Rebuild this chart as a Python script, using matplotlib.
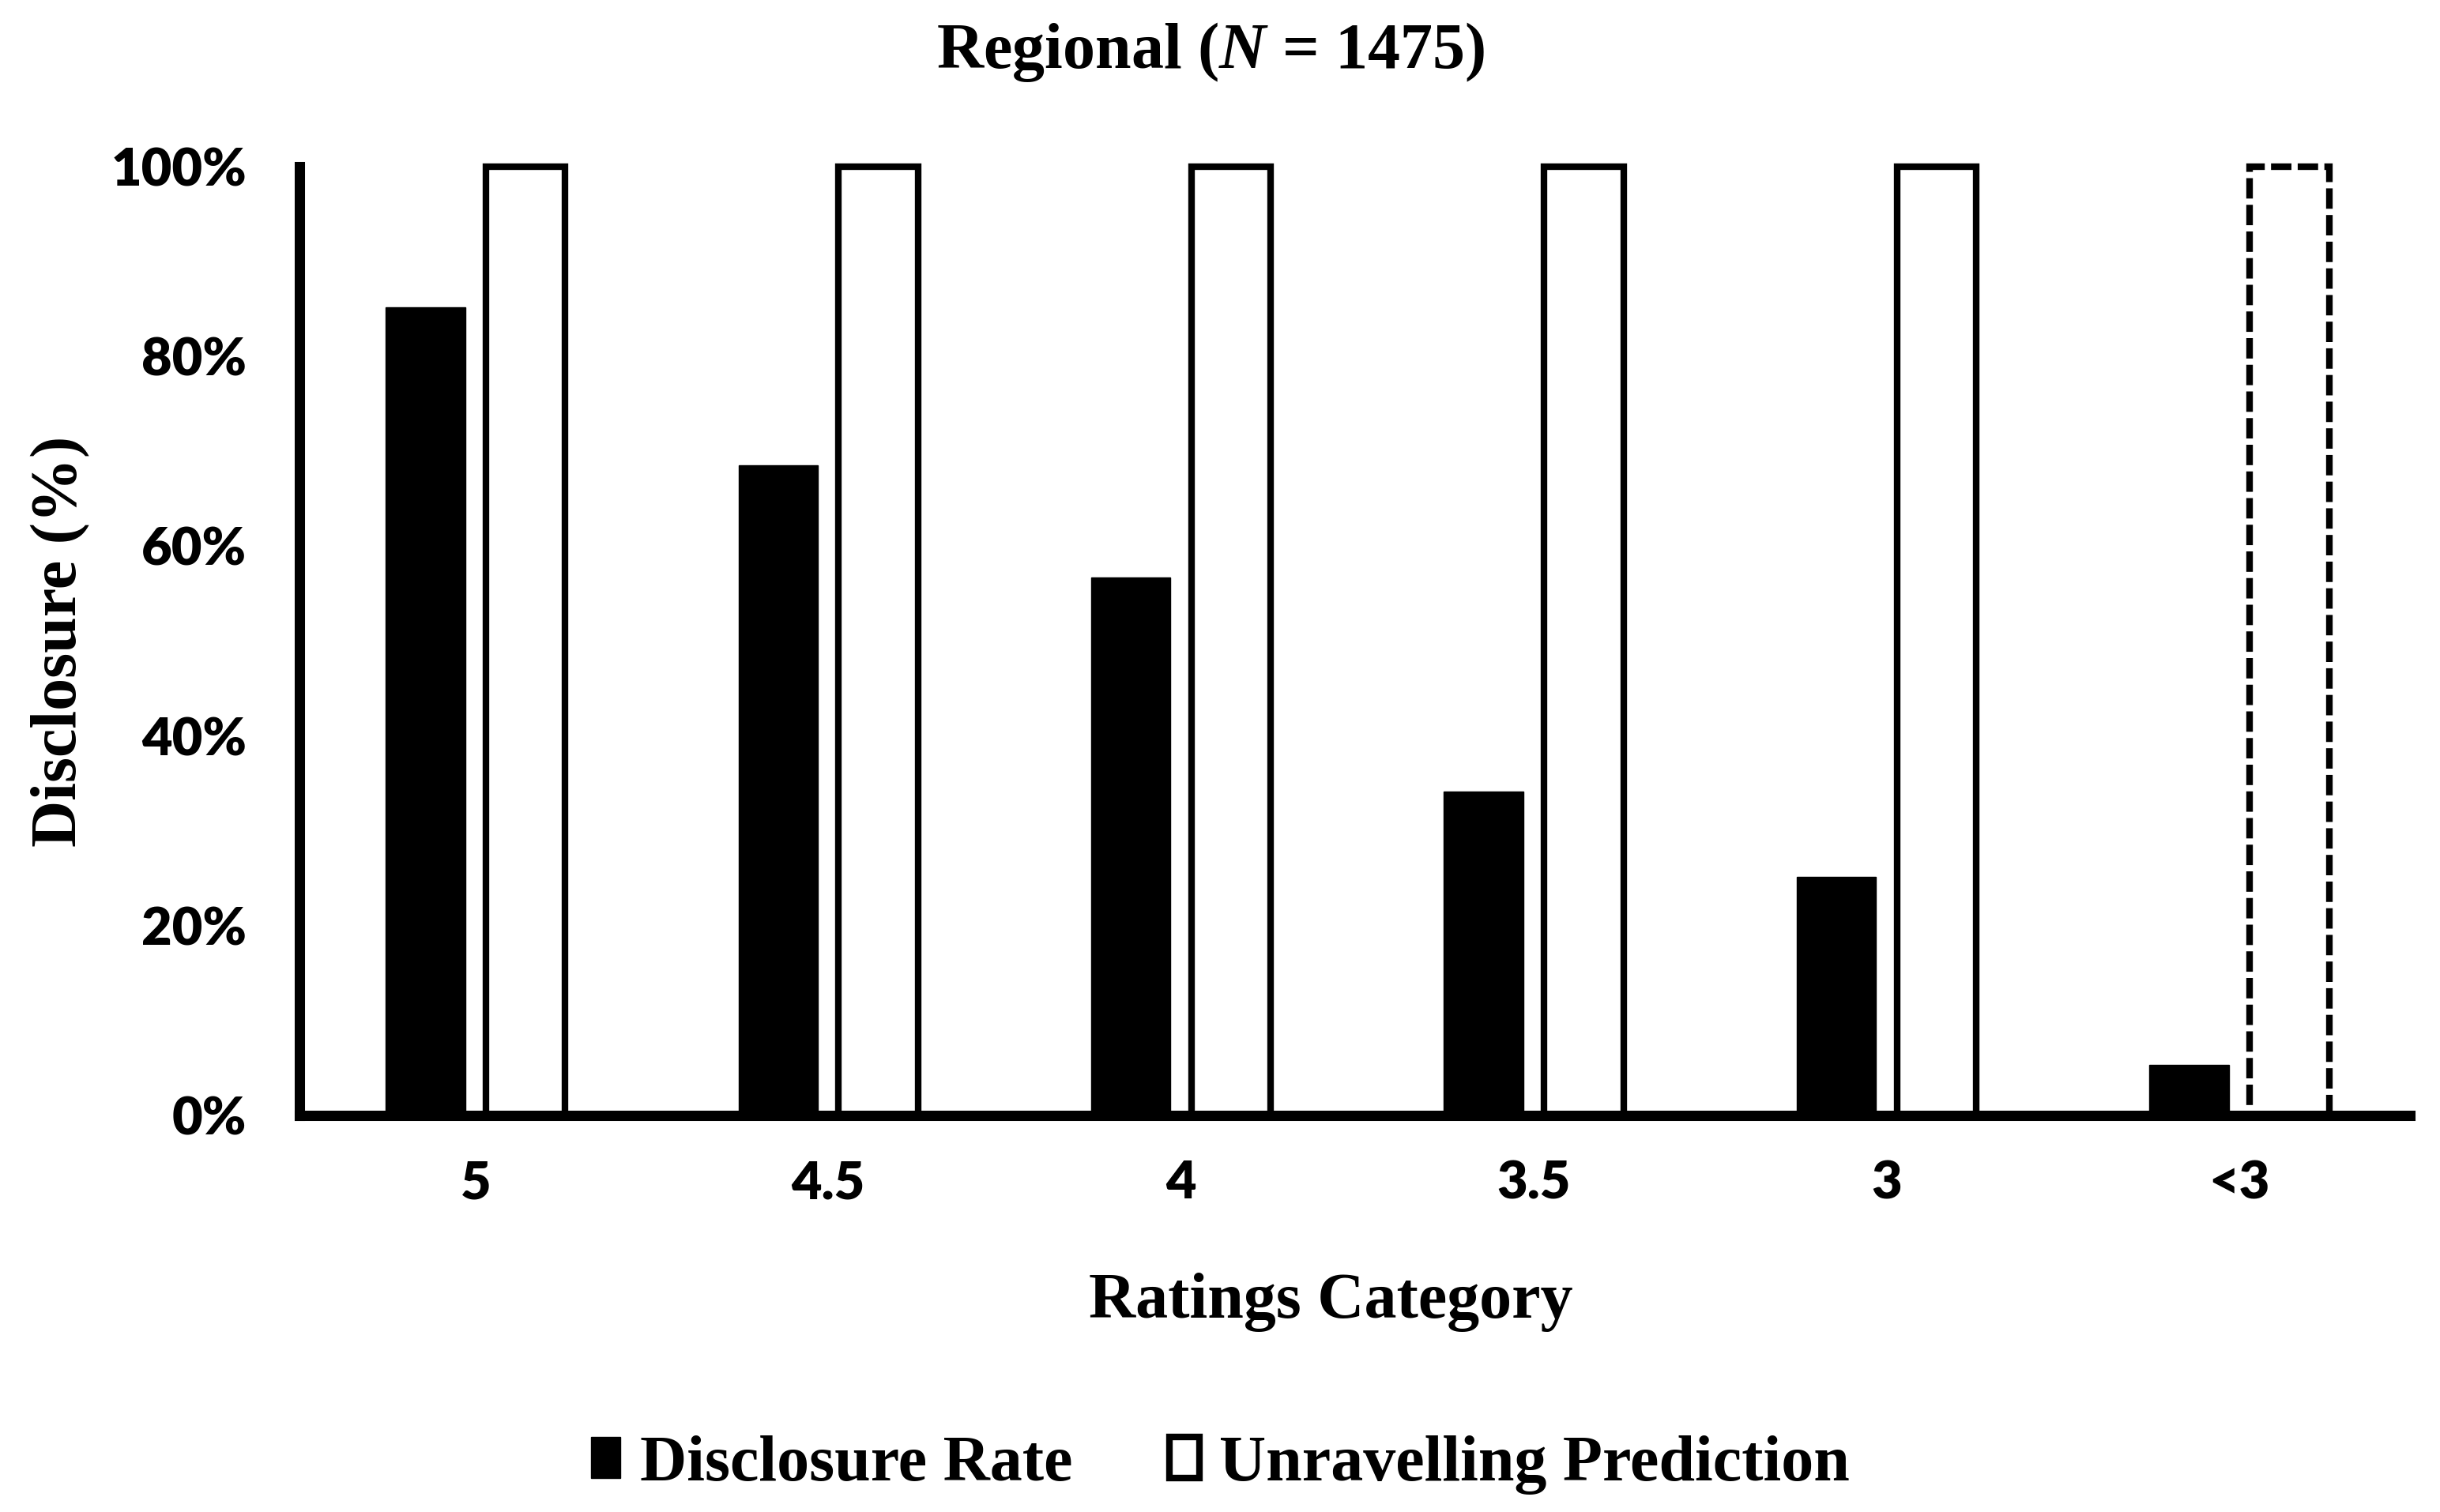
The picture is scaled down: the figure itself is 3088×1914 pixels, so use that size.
import matplotlib
matplotlib.use("Agg")
import matplotlib.pyplot as plt
import numpy as np

categories = ["5", "4.5", "4", "3.5", "3", "<3"]
disclosure_rate = [0.851, 0.685, 0.567, 0.341, 0.251, 0.053]
unravelling_prediction = [1.0, 1.0, 1.0, 1.0, 1.0, 1.0]
y_ticks = [0, 0.2, 0.4, 0.6, 0.8, 1.0]
y_tick_labels = ["0%", "20%", "40%", "60%", "80%", "100%"]

plt.rcParams["mathtext.fontset"] = "custom"
plt.rcParams["mathtext.it"] = "Liberation Serif:italic:bold"
plt.rcParams["mathtext.rm"] = "Liberation Serif:bold"

serif = dict(family="Liberation Serif", weight="bold", size=29.5)

fig = plt.figure(figsize=(15.44, 9.57), dpi=200)
ax = fig.add_axes([0.1226, 0.2625, 0.99 - 0.1226, 0.89 - 0.2625])

x = np.arange(len(categories))
w = 0.225
off = 0.142

ax.bar(x - off, disclosure_rate, w, color="black", edgecolor="black",
       linewidth=0.5, label="Disclosure Rate", zorder=2)
white = ax.bar(x + off, unravelling_prediction, w, color="white",
               edgecolor="black", linewidth=3, label="Unravelling Prediction",
               zorder=2, clip_on=False)
# last category prediction drawn dashed
white[-1].set_linestyle((0, (3.1, 0.95)))

ax.set_xlim(-0.5, len(categories) - 0.5)
ax.set_ylim(0, 1.0)

ax.set_xticks(x)
ax.set_xticklabels(categories)
ax.set_yticks(y_ticks)
ax.set_yticklabels(y_tick_labels)
ax.tick_params(axis="both", length=0, labelsize=24)
ax.tick_params(axis="x", pad=20)
ax.tick_params(axis="y", pad=24)
for lab in ax.get_xticklabels() + ax.get_yticklabels():
    lab.set_fontfamily("Lato")
    lab.set_fontweight("heavy")

for s in ["top", "right"]:
    ax.spines[s].set_visible(False)
ax.spines["left"].set_linewidth(4.7)
ax.spines["bottom"].set_linewidth(4.7)
ax.spines["bottom"].set_bounds(-0.5, len(categories) - 0.515)
ax.spines["left"].set_zorder(3)
ax.spines["bottom"].set_zorder(3)

fig.text(0.496, 0.9655, r"Regional ($\mathit{N}$ = 1475)", ha="center",
         va="center", **serif)
fig.text(0.0249, 0.5757, "Disclosure (%)", rotation=90, ha="center",
         va="center", **serif)
fig.text(0.5455, 0.1285, "Ratings Category", ha="center", va="baseline",
         **serif)

fig.legend(loc="center", bbox_to_anchor=(0.5, 0.031), ncol=2,
           frameon=False, prop=dict(family="Liberation Serif", weight="bold",
                                    size=29.5),
           handlelength=0.46, handleheight=0.6, handletextpad=0.3,
           columnspacing=1.5)

fig.savefig("out.png", dpi=200)
